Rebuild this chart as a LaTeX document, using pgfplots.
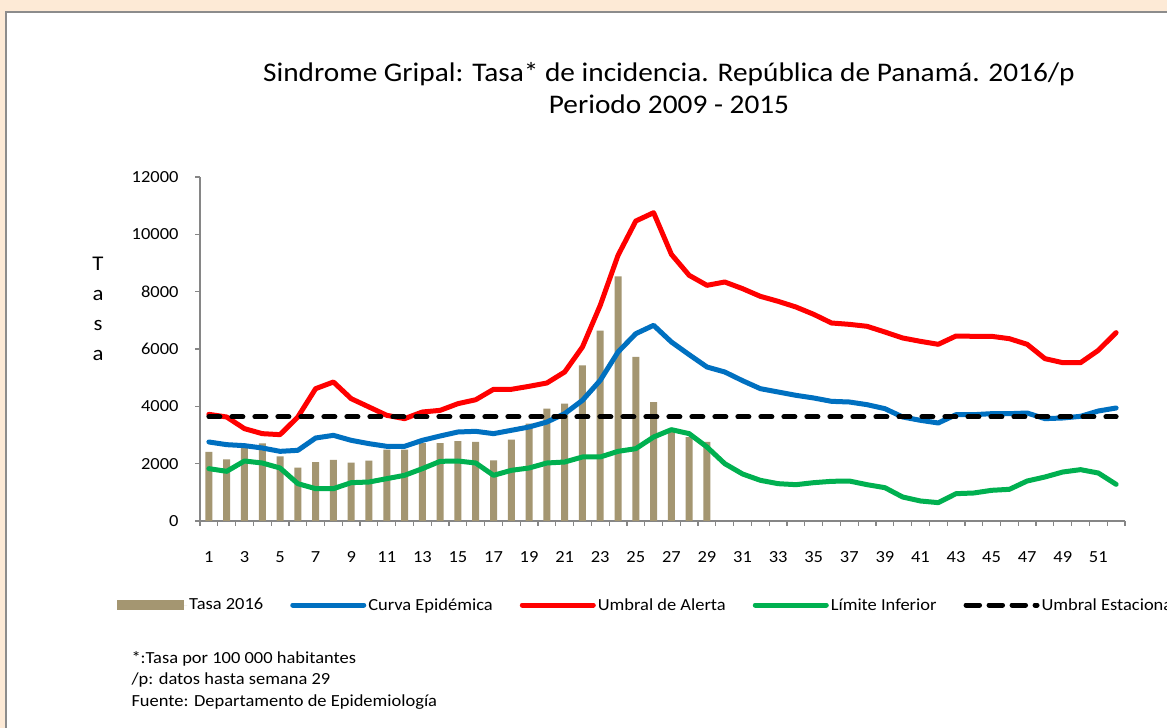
\documentclass[border=0pt]{standalone}
\usepackage{fontspec}
\setmainfont{Carlito}[FakeStretch=1.09]
\usepackage{pgfplots}
\pgfplotsset{compat=1.18}

\definecolor{bgpeach}{RGB}{253,234,214}
\definecolor{panelgray}{RGB}{140,140,140}
\definecolor{axgray}{RGB}{134,134,134}
\definecolor{tasac}{RGB}{164,150,113}
\definecolor{curvac}{RGB}{0,112,192}
\definecolor{alertac}{RGB}{255,0,0}
\definecolor{inferiorc}{RGB}{0,176,80}

\begin{document}
\begin{tikzpicture}
\useasboundingbox (0bp,0bp) rectangle (1167bp,728bp);
\clip (0bp,0bp) rectangle (1167bp,728bp);
\begin{scope}[x=1bp,y=1bp]
\fill[bgpeach] (0,0) rectangle (1167,728);
\fill[white] (6,-5) rectangle (1180,716);
\draw[panelgray, line width=2bp] (6,-5) -- (6,716) -- (1180,716);

% titulo
\node[anchor=base, font=\fontsize{27}{32}\selectfont] at (669,646)
  {Sindrome Gripal: Tasa* de incidencia. República de Panamá. 2016/p};
\node[anchor=base, font=\fontsize{27}{32}\selectfont] at (669,614)
  {Periodo 2009 - 2015};

% eje y: letras apiladas
\node[anchor=base, font=\fontsize{21}{24}\selectfont] at (98,457) {T};
\node[anchor=base, font=\fontsize{21}{24}\selectfont] at (98,427) {a};
\node[anchor=base, font=\fontsize{21}{24}\selectfont] at (98,397) {s};
\node[anchor=base, font=\fontsize{21}{24}\selectfont] at (98,368) {a};

% notas
\node[anchor=base west, font=\fontsize{17}{20}\selectfont] at (128,65) {*:Tasa por 100 000 habitantes};
\node[anchor=base west, font=\fontsize{17}{20}\selectfont] at (128,44) {/p: datos hasta semana 29};
\node[anchor=base west, font=\fontsize{17}{20}\selectfont] at (128,22) {Fuente: Departamento de Epidemiología};
\end{scope}

\begin{axis}[
  at={(200bp,207bp)}, anchor=south west,
  scale only axis, width=925bp, height=344bp,
  xmin=0.5, xmax=52.5, ymin=0, ymax=12000,
  axis x line*=bottom, axis y line*=left,
  axis line style={axgray, line width=1.5bp, -},
  tick align=outside, major tick length=5bp, minor tick length=5bp,
  ytick={0,2000,...,12000},
  scaled y ticks=false,
  xtick={1,3,...,51},
  minor xtick={0.5,1.5,...,52.5},
  major x tick style={draw=none},
  minor x tick style={axgray, line width=1.2bp},
  major y tick style={axgray, line width=1.2bp},
  tick label style={font=\fontsize{17}{20}\selectfont},
  xticklabel style={yshift=-22bp},
  yticklabel style={xshift=-13bp},
  /pgf/number format/assume math mode=true,
  /pgf/number format/1000 sep={},
  legend columns=5,
  legend style={at={(axis description cs:-0.0897,-0.2442)}, anchor=west,
    draw=none, fill=none, inner sep=0pt,
    font=\fontsize{17}{20}\selectfont,
    /tikz/every even column/.append style={column sep=25bp}},
  legend image code/.code={\draw[#1] (2.5bp,0bp) -- (68.5bp,0bp);
    \path (0bp,0bp) -- (71bp,0bp);},
  every axis plot/.append style={line width=5bp, line join=round, line cap=round},
]

\addplot[ybar, bar width=7bp, fill=tasac, draw=none,
  legend image code/.code={\fill[tasac] (0bp,-5bp) rectangle (67bp,5bp);
    \path (0bp,0bp) -- (70bp,0bp);}]
  coordinates {
  (1,2407) (2,2151) (3,2580) (4,2709) (5,2256) (6,1860) (7,2058) (8,2128)
  (9,2035) (10,2105) (11,2490) (12,2490) (13,2720) (14,2720) (15,2790)
  (16,2756) (17,2116) (18,2837) (19,3395) (20,3919) (21,4093) (22,5430)
  (23,6640) (24,8535) (25,5721) (26,4151) (27,3100) (28,2930) (29,2756)
  };
\addlegendentry{Tasa 2016}

\addplot[curvac] coordinates {
  (1,2756) (2,2663) (3,2628) (4,2547) (5,2430) (6,2465) (7,2895) (8,2988)
  (9,2814) (10,2698) (11,2605) (12,2605) (13,2814) (14,2965) (15,3105)
  (16,3128) (17,3047) (18,3163) (19,3279) (20,3453) (21,3744) (22,4209)
  (23,4907) (24,5895) (25,6535) (26,6826) (27,6244) (28,5802) (29,5372)
  (30,5198) (31,4895) (32,4616) (33,4500) (34,4384) (35,4291) (36,4174)
  (37,4151) (38,4058) (39,3919) (40,3628) (41,3512) (42,3419) (43,3709)
  (44,3709) (45,3744) (46,3744) (47,3767) (48,3570) (49,3593) (50,3651)
  (51,3837) (52,3942)
  };
\addlegendentry{Curva Epidémica}

\addplot[alertac] coordinates {
  (1,3721) (2,3628) (3,3221) (4,3047) (5,3012) (6,3628) (7,4616) (8,4849)
  (9,4267) (10,3977) (11,3686) (12,3570) (13,3802) (14,3860) (15,4093)
  (16,4230) (17,4593) (18,4593) (19,4698) (20,4814) (21,5198) (22,6070)
  (23,7523) (24,9267) (25,10465) (26,10756) (27,9302) (28,8570) (29,8221)
  (30,8337) (31,8105) (32,7837) (33,7663) (34,7465) (35,7209) (36,6907)
  (37,6860) (38,6791) (39,6593) (40,6384) (41,6267) (42,6163) (43,6453)
  (44,6442) (45,6442) (46,6360) (47,6163) (48,5663) (49,5523) (50,5523)
  (51,5953) (52,6570)
  };
\addlegendentry{Umbral de Alerta}

\addplot[inferiorc] coordinates {
  (1,1826) (2,1733) (3,2093) (4,2023) (5,1849) (6,1302) (7,1128) (8,1128)
  (9,1337) (10,1360) (11,1477) (12,1593) (13,1826) (14,2081) (15,2093)
  (16,2023) (17,1593) (18,1767) (19,1849) (20,2023) (21,2058) (22,2233)
  (23,2233) (24,2430) (25,2523) (26,2930) (27,3186) (28,3047) (29,2581)
  (30,2000) (31,1640) (32,1419) (33,1302) (34,1267) (35,1337) (36,1384)
  (37,1395) (38,1267) (39,1163) (40,837) (41,698) (42,640) (43,953)
  (44,977) (45,1070) (46,1105) (47,1395) (48,1535) (49,1709) (50,1791)
  (51,1674) (52,1279)
  };
\addlegendentry{Límite Inferior}

\addplot[black, dash pattern=on 11bp off 12bp,
  legend image code/.code={\draw[black, line width=5bp, line cap=round,
    dash pattern=on 11bp off 12bp] (2.5bp,0bp) -- (59.5bp,0bp);
    \path (0bp,0bp) -- (71bp,0bp);}] coordinates {
  (1,3630) (2,3630) (3,3630) (4,3630) (5,3630) (6,3630) (7,3630) (8,3630)
  (9,3630) (10,3630) (11,3630) (12,3630) (13,3630) (14,3630) (15,3630)
  (16,3630) (17,3630) (18,3630) (19,3630) (20,3630) (21,3630) (22,3630)
  (23,3630) (24,3630) (25,3630) (26,3630) (27,3630) (28,3630) (29,3630)
  (30,3630) (31,3630) (32,3630) (33,3630) (34,3630) (35,3630) (36,3630)
  (37,3630) (38,3630) (39,3630) (40,3630) (41,3630) (42,3630) (43,3630)
  (44,3630) (45,3630) (46,3630) (47,3630) (48,3630) (49,3630) (50,3630)
  (51,3630) (52,3630)
  };
\addlegendentry{Umbral Estacional}
\end{axis}
\end{tikzpicture}
\end{document}
